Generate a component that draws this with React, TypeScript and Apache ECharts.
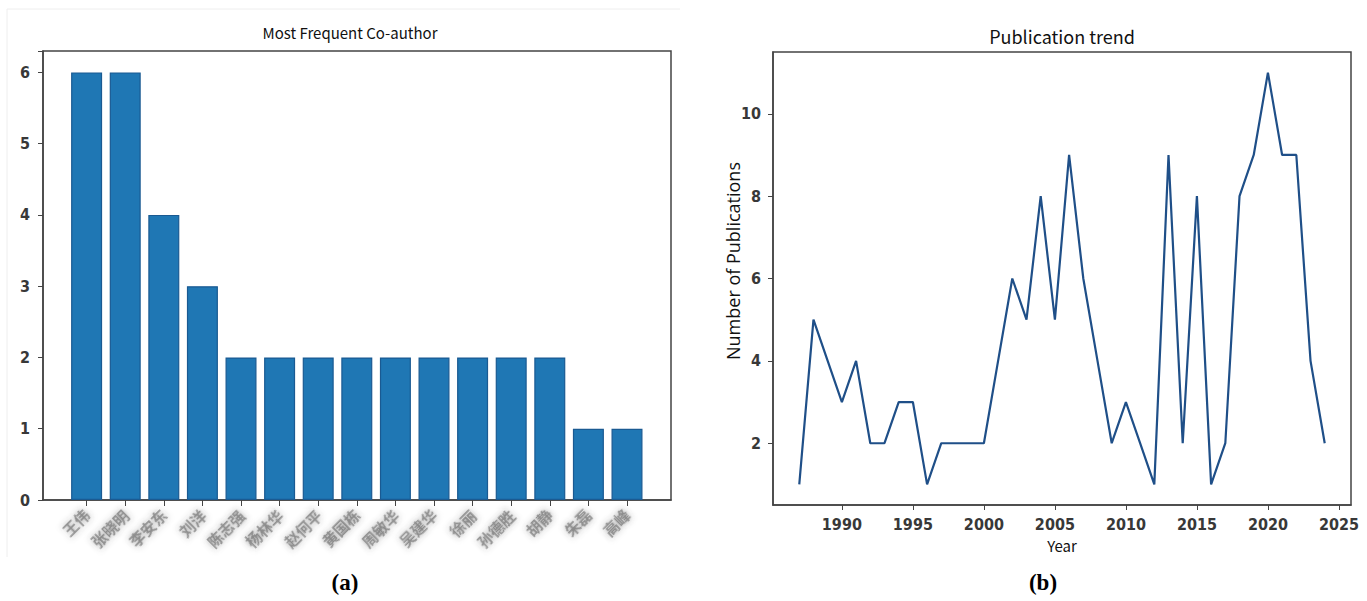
import React, { useEffect, useRef } from "react";
import * as echarts from "echarts";

// ---- data ----
const coauthors = [
  "王伟", "张晓明", "李安东", "刘洋", "陈志强", "杨林华", "赵何平", "黄国栋",
  "周敏华", "吴建华", "徐丽", "孙德胜", "胡静", "朱磊", "高峰",
];
const coauthorCounts = [6, 6, 4, 3, 2, 2, 2, 2, 2, 2, 2, 2, 2, 1, 1];
const barTicks = [0, 1, 2, 3, 4, 5, 6, 7, 8, 9, 10, 11, 12, 13, 14];

const years = [
  1987, 1988, 1989, 1990, 1991, 1992, 1993, 1994, 1995, 1996,
  1997, 1998, 1999, 2000, 2001, 2002, 2003, 2004, 2005, 2006,
  2007, 2008, 2009, 2010, 2011, 2012, 2013, 2014, 2015, 2016,
  2017, 2018, 2019, 2020, 2021, 2022, 2023, 2024,
];
const publications = [
  1, 5, 4, 3, 4, 2, 2, 3, 3, 1,
  2, 2, 2, 2, 4, 6, 5, 8, 5, 9,
  6, 4, 2, 3, 2, 1, 9, 2, 8, 1,
  2, 8, 9, 11, 9, 9, 4, 2,
];
const yearTicks = [1990, 1995, 2000, 2005, 2010, 2015, 2020, 2025];
const pubTicks = [2, 4, 6, 8, 10];

const NARROW = "'Liberation Sans Narrow', 'DejaVu Sans Condensed', 'Noto Sans', sans-serif";
const AXIS = "#444";

export default function App() {
  const ref = useRef<HTMLDivElement>(null);
  useEffect(() => {
    const chart = echarts.init(ref.current!, null, { renderer: "svg" });
    const tickLabel = { color: "#383838", fontSize: 16, fontWeight: "bold", fontFamily: NARROW };
    chart.setOption({
      animation: false,
      backgroundColor: "#fff",
      title: [
        {
          text: "Most Frequent Co-author",
          left: 345,
          top: 20,
          textAlign: "center",
          textStyle: { fontSize: 15, fontWeight: "normal", color: "#111", fontFamily: "'Noto Sans CJK SC', 'Noto Sans', sans-serif" },
        },
        {
          text: "Publication trend",
          left: 1057,
          top: 22,
          textAlign: "center",
          textStyle: { fontSize: 18, fontWeight: "normal", color: "#111", fontFamily: "'Noto Sans CJK SC', 'Noto Sans', sans-serif" },
        },
      ],
      grid: [
        { left: 43, top: 51, width: 628, height: 449, show: true, borderColor: AXIS, borderWidth: 1.5, backgroundColor: "transparent" },
        { left: 773, top: 52, width: 578, height: 453, show: true, borderColor: AXIS, borderWidth: 1.5, backgroundColor: "transparent" },
      ],
      xAxis: [
        {
          type: "value",
          gridIndex: 0,
          min: -1.13,
          max: 15.14,
          splitLine: { show: false },
          axisLine: { show: true, onZero: false, lineStyle: { color: AXIS, width: 1.5 } },
          axisTick: { show: true, length: 6, lineStyle: { color: AXIS }, customValues: barTicks },
          axisLabel: {
            customValues: barTicks,
            rotate: 45,
            margin: 12,
            formatter: (v: number) => coauthors[Math.round(v)] ?? "",
            color: "rgba(95,95,95,0.6)",
            fontSize: 15,
            fontWeight: "bold",
            fontFamily: "'Noto Sans CJK SC', sans-serif",
            textShadowColor: "rgba(60,60,60,0.8)",
            textShadowBlur: 6,
          },
        },
        {
          type: "value",
          gridIndex: 1,
          min: 1985.15,
          max: 2025.85,
          splitLine: { show: false },
          axisLine: { show: true, onZero: false, lineStyle: { color: AXIS, width: 1.5 } },
          axisTick: { show: true, length: 5, lineStyle: { color: AXIS }, customValues: yearTicks },
          axisLabel: { ...tickLabel, customValues: yearTicks, margin: 11, formatter: (v: number) => String(v) },
          name: "Year",
          nameLocation: "middle",
          nameGap: 33,
          nameTextStyle: { fontSize: 15, color: "#111", fontFamily: "'Noto Sans CJK SC', 'Noto Sans', sans-serif" },
        },
      ],
      yAxis: [
        {
          type: "value",
          gridIndex: 0,
          min: 0,
          max: 6.3,
          interval: 1,
          splitLine: { show: false },
          axisLine: { show: true, onZero: false, lineStyle: { color: AXIS, width: 1.5 } },
          axisTick: { show: true, length: 5, lineStyle: { color: AXIS } },
          axisLabel: { ...tickLabel, margin: 13, formatter: (v: number) => (Number.isInteger(v) ? String(v) : "") },
        },
        {
          type: "value",
          gridIndex: 1,
          min: 0.5,
          max: 11.5,
          splitLine: { show: false },
          axisLine: { show: true, onZero: false, lineStyle: { color: AXIS, width: 1.5 } },
          axisTick: { show: true, length: 5, lineStyle: { color: AXIS }, customValues: pubTicks },
          axisLabel: { ...tickLabel, customValues: pubTicks, margin: 12, formatter: (v: number) => String(v) },
        },
      ],
      series: [
        {
          type: "bar",
          xAxisIndex: 0,
          yAxisIndex: 0,
          barWidth: 31,
          data: coauthorCounts.map((v, i) => [barTicks[i], v]),
          itemStyle: { color: "#1f77b4", borderColor: "#1a5a92", borderWidth: 1.2 },
        },
        {
          type: "line",
          xAxisIndex: 1,
          yAxisIndex: 1,
          showSymbol: false,
          symbol: "none",
          data: years.map((y, i) => [y, publications[i]]),
          lineStyle: { color: "#1f4f88", width: 2.2 },
        },
      ],
      graphic: [
        { type: "line", shape: { x1: 7, y1: 9, x2: 680, y2: 9 }, style: { stroke: "#eeeeee", lineWidth: 1 }, silent: true },
        { type: "line", shape: { x1: 7, y1: 9, x2: 7, y2: 557 }, style: { stroke: "#eeeeee", lineWidth: 1 }, silent: true },
        {
          type: "text",
          x: 733,
          y: 261,
          rotation: Math.PI / 2,
          style: {
            text: "Number of Publications",
            fill: "#111",
            font: "18px 'Open Sans', 'Noto Sans', sans-serif",
            textAlign: "center",
            textVerticalAlign: "middle",
          },
        },
        {
          type: "text",
          x: 345,
          y: 582,
          style: { text: "(a)", fill: "#000", font: "bold 23px 'Liberation Serif', 'DejaVu Serif', serif", textAlign: "center", textVerticalAlign: "middle" },
        },
        {
          type: "text",
          x: 1043,
          y: 582,
          style: { text: "(b)", fill: "#000", font: "bold 23px 'Liberation Serif', 'DejaVu Serif', serif", textAlign: "center", textVerticalAlign: "middle" },
        },
      ],
    });
    return () => chart.dispose();
  }, []);
  return (
    <div
      ref={ref}
      style={{ position: "absolute", left: 0, top: 0, width: 1367, height: 601, background: "#fff" }}
    />
  );
}
